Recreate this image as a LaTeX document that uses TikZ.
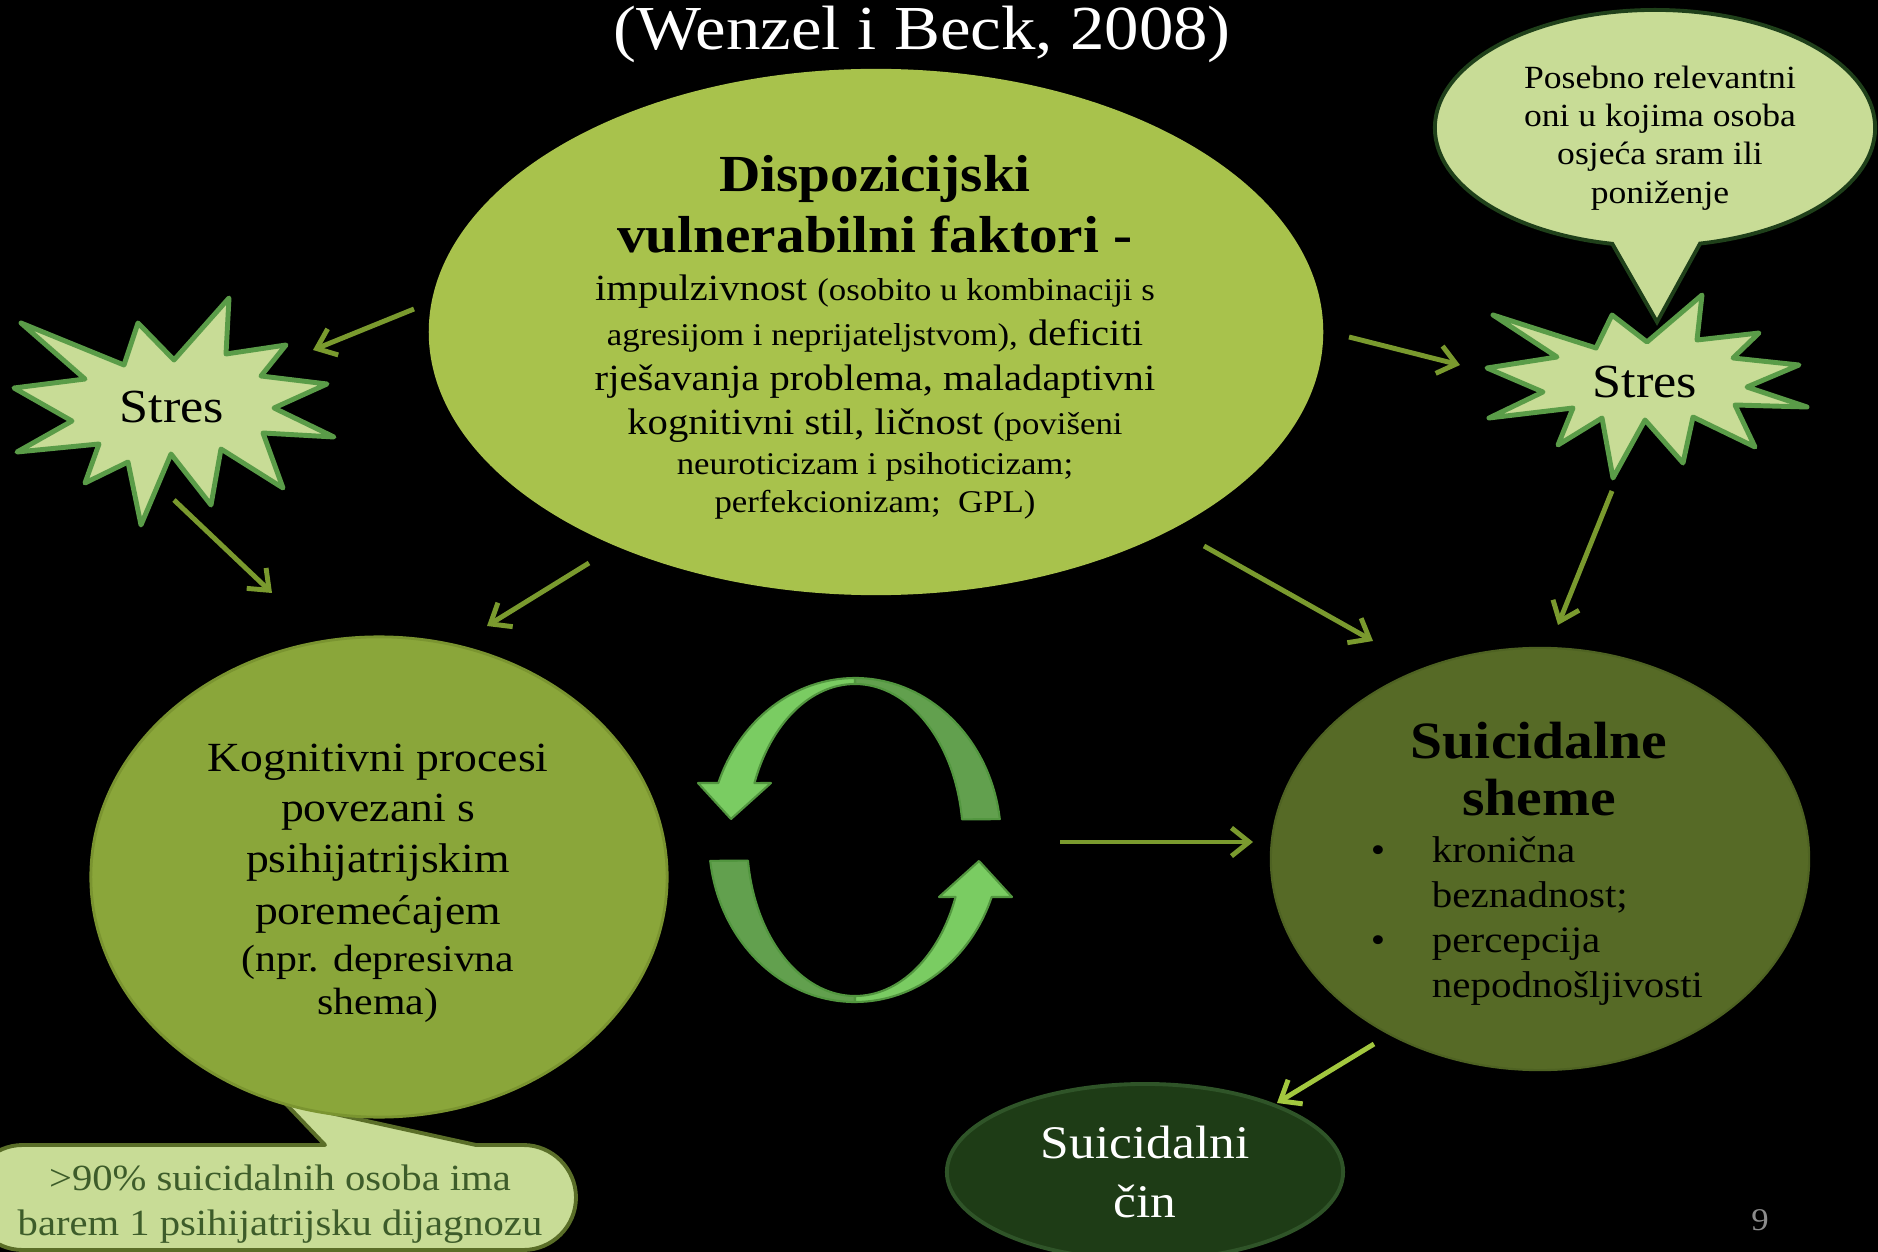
\documentclass[tikz,border=0pt]{standalone}
\usepackage{fontspec}
\setmainfont{Liberation Serif}[FakeStretch=1.1]
\usetikzlibrary{shapes.geometric,shapes.callouts,arrows.meta}

\newcommand\fsz[2]{\fontsize{#1}{#2}\selectfont}

\definecolor{topgreen}{HTML}{A8C24C}
\definecolor{midgreen}{HTML}{8AA63A}
\definecolor{midedge}{HTML}{7A9430}
\definecolor{schemegreen}{HTML}{566A26}
\definecolor{schemeedge}{HTML}{4E6222}
\definecolor{cingreen}{HTML}{1E3C16}
\definecolor{cinedge}{HTML}{2F5428}
\definecolor{palegreen}{HTML}{C8DC96}
\definecolor{staredge}{HTML}{5A9C48}
\definecolor{noteedge}{HTML}{1F401A}
\definecolor{boxedge}{HTML}{5A6E28}
\definecolor{boxtext}{HTML}{3D5C2A}
\definecolor{arrowgreen}{HTML}{7A9A2E}
\definecolor{brightarrow}{HTML}{A3C83F}
\definecolor{cycdark}{HTML}{62A04E}
\definecolor{cyclight}{HTML}{7ACC62}
\definecolor{cycedge}{HTML}{52963F}
\definecolor{pagegray}{HTML}{8C8C8C}

\tikzset{
  blob/.style={ellipse, inner sep=0pt},
  flow/.style={draw=arrowgreen, line width=1.4pt, -{Straight Barb[length=5pt,width=8pt]}},
  burst/.style={fill=palegreen, draw=staredge, line width=1.4pt, line join=round},
  ring/.style={draw=cycedge, line width=0.6pt, line join=round},
}

\begin{document}
\begin{tikzpicture}[x=0.01cm, y=-0.01cm]
\useasboundingbox (0,0) rectangle (1878,1252);
\fill[black] (0,0) rectangle (1878,1252);
\clip (0,0) rectangle (1878,1252);

\node (title) at (922,50) [anchor=base, text=white, font=\fsz{17.8pt}{20pt}] {(Wenzel i Beck, 2008)};

\node (note) at (1655,128) [ellipse callout, callout absolute pointer={(1657,322)}, callout pointer arc=23,
  minimum width=4.4cm, minimum height=2.36cm, inner sep=0pt, fill=palegreen, draw=noteedge, line width=1.1pt] {};

\draw[burst] (1493,315) -- (1596,348) -- (1612,315) -- (1647,342) -- (1702,295) -- (1697,340)
  -- (1759,333) -- (1733,358) -- (1799,365) -- (1747,387) -- (1807,407) -- (1735,405)
  -- (1755,447) -- (1693,417) -- (1683,463) -- (1645,420) -- (1613,478) -- (1602,418)
  -- (1558,445) -- (1573,408) -- (1489,418) -- (1543,392) -- (1487,368) -- (1557,357) -- cycle;

\draw[burst] (21,323) -- (124,365) -- (138,323) -- (174,360) -- (229,298) -- (226,354)
  -- (286,345) -- (261,376) -- (327,384) -- (274,408) -- (334,437) -- (263,433)
  -- (283,488) -- (221,449) -- (211,505) -- (171,454) -- (141,525) -- (128,462)
  -- (85,483) -- (99,444) -- (17,452) -- (72,421) -- (14,388) -- (85,379) -- cycle;

\draw[fill=palegreen, draw=boxedge, line width=1.1pt, line join=round]
  (-30,1145) -- (325,1145) -- (285,1103) -- (476,1145) [rounded corners=15]
  -- (576,1145) -- (576,1250) -- (-30,1250) -- cycle;

\node (kog) at (379,877) [blob, minimum width=5.76cm, minimum height=4.8cm, fill=midgreen, draw=midedge, line width=0.8pt] {};
\node (disp) at (876,332) [blob, minimum width=8.94cm, minimum height=5.26cm, fill=topgreen] {};
\node (shem) at (1540,859) [blob, minimum width=5.38cm, minimum height=4.22cm, fill=schemegreen, draw=schemeedge, line width=0.6pt] {};
\node (cin) at (1145,1172) [blob, minimum width=3.96cm, minimum height=1.76cm, fill=cingreen, draw=cinedge, line width=1.1pt] {};

\begin{scope}[shift={(855,840)}]
\filldraw[ring, fill=cycdark] (-7.4:146 and 162) arc[start angle=-7.4, end angle=-90, x radius=146, y radius=162]
  -- (-90:108 and 156) arc[start angle=-90, end angle=-7.6, x radius=108, y radius=156] -- cycle;
\filldraw[ring, fill=cyclight] (-90:146 and 162) arc[start angle=-90, end angle=-159.4, x radius=146, y radius=162]
  -- (-157,-57) -- (-124,-21) -- (-84,-57)
  -- (-158.6:108 and 156) arc[start angle=-158.6, end angle=-90, x radius=108, y radius=156] -- cycle;
\end{scope}
\begin{scope}[shift={(855,840)}, rotate=180]
\filldraw[ring, fill=cycdark] (-7.4:146 and 162) arc[start angle=-7.4, end angle=-90, x radius=146, y radius=162]
  -- (-90:108 and 156) arc[start angle=-90, end angle=-7.6, x radius=108, y radius=156] -- cycle;
\filldraw[ring, fill=cyclight] (-90:146 and 162) arc[start angle=-90, end angle=-159.4, x radius=146, y radius=162]
  -- (-157,-57) -- (-124,-21) -- (-84,-57)
  -- (-158.6:108 and 156) arc[start angle=-158.6, end angle=-90, x radius=108, y radius=156] -- cycle;
\end{scope}

\node (disptxt) at (875,337) [align=center, font=\fsz{10.5pt}{12.8pt}] {%
  {\fsz{14.8pt}{16pt}\bfseries Dispozicijski}\\[2.85pt]
  {\fsz{14.8pt}{16pt}\bfseries vulnerabilni faktori -}\\[0.97pt]
  impulzivnost {\fsz{9pt}{11pt}(osobito u kombinaciji s}\\
  {\fsz{9pt}{11pt}agresijom i neprijateljstvom),} deficiti\\
  rješavanja problema, maladaptivni\\[-0.5pt]
  kognitivni stil, ličnost {\fsz{9pt}{11pt}(povišeni}\\[-1.4pt]
  {\fsz{9pt}{11pt}neuroticizam i psihoticizam;}\\[-2pt]
  {\fsz{9pt}{11pt}perfekcionizam;\ \ GPL)}};

\node (kogtxt) at (378,883) [align=center, font=\fsz{11.8pt}{14.5pt}] {%
  Kognitivni procesi\\[-0.3pt]
  povezani s\\
  psihijatrijskim\\[0.3pt]
  poremećajem\\[-1.1pt]
  {\fsz{10.8pt}{13pt}(npr. depresivna}\\[-2.3pt]
  {\fsz{10.8pt}{13pt}shema)}};

\node (shemtxt) at (1539,864) [align=center, font=\fsz{10.6pt}{12.8pt}] {%
  {\fsz{14.9pt}{16pt}\bfseries Suicidalne}\\[3.4pt]
  {\fsz{14.9pt}{16pt}\bfseries sheme}\\[0.6pt]
  \makebox[3.36cm][l]{\makebox[0.61cm][l]{\textbullet}kronična}\\
  \makebox[3.36cm][l]{\hspace{0.61cm}beznadnost;}\\
  \makebox[3.36cm][l]{\makebox[0.61cm][l]{\textbullet}percepcija}\\
  \makebox[3.36cm][l]{\hspace{0.61cm}nepodnošljivosti}};

\node (cintxt) at (1145,1172) [align=center, text=white, font=\fsz{13.3pt}{16.8pt}] {Suicidalni\\ čin};

\node (notetxt) at (1660,138) [align=center, font=\fsz{9.2pt}{10.9pt}] {Posebno relevantni\\ oni u kojima osoba\\ osjeća sram ili\\ poniženje};

\node (boxtxt) at (280,1204) [align=center, text=boxtext, font=\fsz{10.5pt}{12.8pt}] {>90\% suicidalnih osoba ima\\ barem 1 psihijatrijsku dijagnozu};

\node (stresL) at (172,407) [font=\fsz{13.5pt}{15pt}] {Stres};
\node (stresR) at (1645,382) [font=\fsz{13.5pt}{15pt}] {Stres};

\coordinate (dispA) at (414,309);   \coordinate (stresLA) at (313,350);
\coordinate (stresLB) at (174,500); \coordinate (kogA) at (272,593);
\coordinate (dispB) at (589,563);   \coordinate (kogB) at (487,626);
\coordinate (dispC) at (1349,337);  \coordinate (stresRA) at (1460,365);
\coordinate (dispD) at (1204,546);  \coordinate (shemA) at (1373,641);
\coordinate (stresRB) at (1612,491); \coordinate (shemB) at (1558,625);
\coordinate (cycA) at (1060,842);   \coordinate (shemC) at (1253,842);
\coordinate (shemD) at (1374,1044); \coordinate (cinA) at (1277,1103);

\draw[flow] (dispA) -- (stresLA);
\draw[flow] (stresLB) -- (kogA);
\draw[flow] (dispB) -- (kogB);
\draw[flow] (dispC) -- (stresRA);
\draw[flow] (dispD) -- (shemA);
\draw[flow] (stresRB) -- (shemB);
\draw[flow] (cycA) -- (shemC);
\draw[flow, draw=brightarrow] (shemD) -- (cinA);

\node (pg) at (1760,1230) [anchor=base, text=pagegray, font=\fsz{9pt}{10pt}] {9};
\end{tikzpicture}
\end{document}
